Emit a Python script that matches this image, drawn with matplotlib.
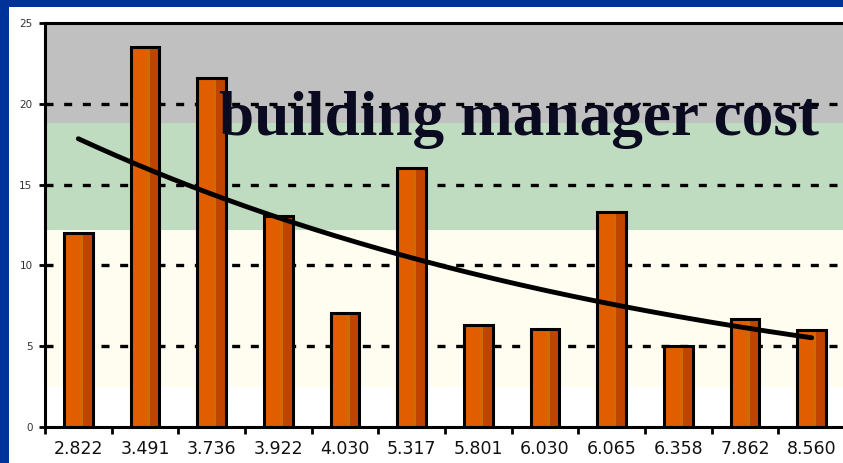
import numpy as np
import matplotlib
matplotlib.use("Agg")
import matplotlib.pyplot as plt
from matplotlib.patches import Rectangle

# data
categories = ["2.822", "3.491", "3.736", "3.922", "4.030", "5.317",
              "5.801", "6.030", "6.065", "6.358", "7.862", "8.560"]
values = [12.0, 23.5, 21.6, 13.05, 7.05, 16.05, 6.3, 6.05, 13.3, 5.0, 6.68, 6.0]
yticks = [0, 5, 10, 15, 20, 25]
# background bands (low, high, colour)
band_edges = [0, 2.5, 12.2, 18.8, 25]
band_colors = ["#FFFFFF", "#FFFCF0", "#C0DCC0", "#C0C0C0"]
title = "building manager cost"

fig = plt.figure(figsize=(8.43, 4.63), dpi=100)
fig.patch.set_facecolor("#003399")
# white slide panel
fig.patches.append(Rectangle((9 / 843, 0), 1, 1 - 7 / 463, transform=fig.transFigure,
                             facecolor="white", edgecolor="none", zorder=-5))

ax = fig.add_axes([45 / 843, 36 / 463, 800 / 843, 404 / 463])
ax.set_facecolor("none")

n = len(categories)
x = np.arange(n)
ax.set_xlim(-0.5, n - 0.5)
ax.set_ylim(0, 25)

for lo, hi, c in zip(band_edges[:-1], band_edges[1:], band_colors):
    ax.axhspan(lo, hi, color=c, zorder=0, lw=0)

for y in yticks[1:-1]:
    ax.axhline(y, color="black", ls=(0, (2.4, 3.2)), lw=2.4, zorder=1)

w = 0.43
left = x - w / 2
ax.bar(left, values, width=w, align="edge", color="#E05E00", lw=0, zorder=2)
ax.bar(left + w * 0.58, values, width=w * 0.08, align="edge", color="#C86E00", lw=0, zorder=2)
ax.bar(left + w * 0.66, values, width=w * 0.34, align="edge", color="#C04400", lw=0, zorder=2)
ax.bar(left, values, width=w, align="edge", facecolor="none", edgecolor="black", lw=2.2, zorder=3)

# exponential trendline fitted to the bars
xi = x + 1
b, a = np.polyfit(xi, np.log(values), 1)
xs = np.linspace(1, n, 200)
ax.plot(xs - 1, np.exp(a + b * xs), color="black", lw=3.5, solid_capstyle="round", zorder=4)

ax.set_yticks(yticks)
ax.set_yticklabels([str(t) for t in yticks], fontsize=7.5, color="#333333",
                   family="DejaVu Sans")
ax.set_xticks(x)
ax.set_xticklabels(categories, fontsize=12.5, family="DejaVu Sans", color="#111111")
ax.set_xticks(np.arange(n + 1) - 0.5, minor=True)
ax.tick_params(axis="x", which="major", length=0, pad=9)
ax.tick_params(axis="x", which="minor", length=5, width=2, direction="out")
ax.tick_params(axis="y", length=4, width=2, direction="out", pad=5)

for s in ["left", "bottom", "top"]:
    ax.spines[s].set_linewidth(2.2)
    ax.spines[s].set_zorder(5)
ax.spines["right"].set_visible(False)

ax.text(0.592, 0.723, title, transform=ax.transAxes, family="Liberation Serif",
        fontsize=45.5, fontweight="bold", color="#0A0A20", ha="center",
        va="baseline", zorder=6)

fig.savefig("out.png", dpi=100, facecolor=fig.get_facecolor())
